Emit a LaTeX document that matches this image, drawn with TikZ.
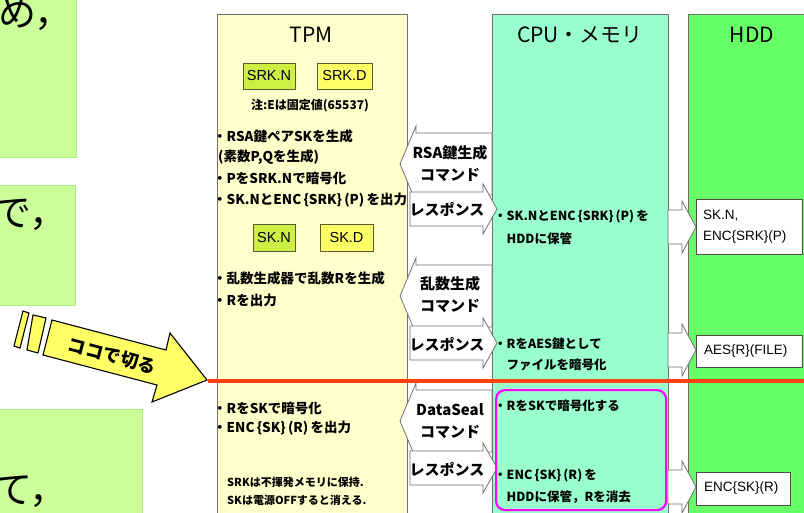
\documentclass[tikz,border=0pt]{standalone}
\usepackage{fontspec}
\setmainfont{Liberation Sans}
\newfontfamily\jp{Noto Sans CJK JP}
\newfontfamily\lat{Liberation Sans}
\definecolor{leftgreen}{HTML}{CCFF99}
\definecolor{leftedge}{HTML}{A8F080}
\definecolor{tpmfill}{HTML}{FFFFCC}
\definecolor{cpufill}{HTML}{99FFCC}
\definecolor{hddfill}{HTML}{66FF66}
\definecolor{keygreen}{HTML}{CCF044}
\definecolor{keyyellow}{HTML}{FFFF66}
\definecolor{keyedge}{HTML}{5A5A30}
\definecolor{cutred}{HTML}{FF4010}
\definecolor{arrowyellow}{HTML}{FFFF66}
\definecolor{edgegray}{HTML}{707070}
\definecolor{pinkline}{HTML}{FF00FF}
\tikzset{
  leftbox/.style={draw=leftedge, fill=leftgreen, line width=0.8pt, anchor=north west, inner sep=0},
  bigjp/.style={font=\jp\fontsize{38}{40}\selectfont, anchor=west, inner sep=0},
  colbox/.style={draw=edgegray, line width=0.8pt, anchor=north west, inner sep=0},
  coltitle/.style={font=\jp\fontsize{21}{23}\selectfont, inner sep=0},
  keybox/.style={draw=keyedge, line width=0.8pt, minimum height=26, inner sep=0, font=\lat\fontsize{14.5}{14.5}\selectfont},
  tb/.style={font=\jp\bfseries\fontsize{13.5}{17}\selectfont, anchor=west, inner sep=0},
  cb/.style={font=\jp\bfseries\fontsize{12.5}{15}\selectfont, anchor=west, inner sep=0},
  smallnote/.style={font=\jp\bfseries\fontsize{11}{13}\selectfont, anchor=west, inner sep=0},
  arrlabel/.style={font=\jp\bfseries\fontsize{15}{22}\selectfont, align=center, inner sep=0},
  blockarrow/.style={draw=edgegray, fill=white, line width=0.8pt, line join=miter},
  hddbox/.style={draw=black!70, fill=white, line width=0.8pt, anchor=north west, inner sep=0},
  hddtext/.style={font=\lat\fontsize{13.5}{21}\selectfont, anchor=west, align=left, inner sep=0},
  cmdarrow/.pic={\draw[blockarrow] (0,-31) -- (-76,-31) -- (-76,-38) -- (-92,0) -- (-76,38) -- (-76,31) -- (0,31) -- cycle;},
  resarrow/.pic={\draw[blockarrow] (0,-17) -- (73,-17) -- (73,-25) -- (87,0) -- (73,25) -- (73,17) -- (0,17) -- cycle;},
  hddarrow/.pic={\draw[blockarrow] (0,-17) -- (14,-17) -- (14,-26) -- (28,0) -- (14,26) -- (14,17) -- (0,17) -- cycle;}
}
\begin{document}
\begin{tikzpicture}[x=1pt,y=-1pt]
\useasboundingbox (0,0) rectangle (804,512);
\clip (0,0) rectangle (804,512);
\fill[white] (0,0) rectangle (804,512);

% left partial boxes
\node[leftbox, minimum width=81, minimum height=159] (lb1) at (-5,-2) {};
\node[leftbox, minimum width=80, minimum height=120] (lb2) at (-5,185) {};
\node[leftbox, minimum width=147, minimum height=115] (lb3) at (-5,409) {};
\node[bigjp] (t1) at (-2,14) {め，};
\node[bigjp] (t2) at (-7,215) {で，};
\node[bigjp] (t3) at (-6,492) {て，};

% columns
\node[colbox, fill=tpmfill, minimum width=190, minimum height=520] (tpm) at (217,14) {};
\node[colbox, fill=cpufill, minimum width=176, minimum height=520] (cpu) at (492,14) {};
\node[colbox, fill=hddfill, minimum width=140, minimum height=520] (hdd) at (688,14) {};
\node[coltitle] (tpmt) at (311,35) {TPM};
\node[coltitle] (cput) at (580,35) {CPU・メモリ};
\node[coltitle] (hddt) at (752,35) {HDD};

% TPM contents
\node[keybox, fill=keygreen, minimum width=52] (srkn) at (269,76) {SRK.N};
\node[keybox, fill=keyyellow, minimum width=55] (srkd) at (344.5,76) {SRK.D};
\node[font=\jp\bfseries\fontsize{12}{14}\selectfont, inner sep=0] (note) at (310,106) {注:Eは固定値(65537)};
\node[tb] (b1) at (213,136) {・RSA鍵ペアSKを生成};
\node[tb] (b2) at (218,157) {(素数P,Qを生成)};
\node[tb] (b3) at (213,178) {・PをSRK.Nで暗号化};
\node[tb] (b4) at (213,200) {・SK.NとENC\,\{SRK\}\,(P)\,を出力};
\node[keybox, fill=keygreen, minimum width=42, minimum height=27] (skn) at (274,237.5) {SK.N};
\node[keybox, fill=keyyellow, minimum width=53, minimum height=27] (skd) at (346.5,237.5) {SK.D};
\node[tb] (b5) at (213,278) {・乱数生成器で乱数Rを生成};
\node[tb] (b6) at (213,300) {・Rを出力};
\node[tb] (b7) at (213,408) {・RをSKで暗号化};
\node[tb] (b8) at (213,428) {・ENC\,\{SK\}\,(R)\,を出力};
\node[smallnote] (n1) at (227,482) {SRKは不揮発メモリに保持.};
\node[smallnote] (n2) at (227,500) {SKは電源OFFすると消える.};

% TPM <-> CPU block arrows
\pic at (492,164) {cmdarrow};
\pic at (410,209) {resarrow};
\pic at (492,296) {cmdarrow};
\pic at (410,343) {resarrow};
\pic at (492,421) {cmdarrow};
\pic at (410,468) {resarrow};
\node[arrlabel] (c1) at (450,164) {RSA鍵生成\\コマンド};
\node[arrlabel] (r1) at (447,209) {レスポンス};
\node[arrlabel] (c2) at (450,295) {乱数生成\\コマンド};
\node[arrlabel] (r2) at (447,344) {レスポンス};
\node[arrlabel] (c3) at (450,421) {DataSeal\\コマンド};
\node[arrlabel] (r3) at (447,469) {レスポンス};

% CPU contents
\node[cb] (p1) at (494,217) {・SK.NとENC\,\{SRK\}\,(P)\,を};
\node[cb] (p2) at (506.5,239) {HDDに保管};
\node[cb] (p3) at (494,344) {・RをAES鍵として};
\node[cb] (p4) at (506.5,365) {ファイルを暗号化};
\node[cb] (p5) at (494,406) {・RをSKで暗号化する};
\node[cb] (p6) at (494,476) {・ENC\,\{SK\}\,(R)\,を};
\node[cb] (p7) at (506.5,497) {HDDに保管，Rを消去};
\node[draw=pinkline, line width=2.2pt, rounded corners=9pt, anchor=north west, minimum width=170, minimum height=120, inner sep=0] (grp) at (495,389) {};

% CPU -> HDD arrows and HDD contents
\pic at (668,227) {hddarrow};
\pic at (668,350) {hddarrow};
\pic at (668,487) {hddarrow};
\node[hddbox, minimum width=106, minimum height=55] (h1) at (696,199) {};
\node[hddtext] (h1t) at (703,226.5) {SK.N,\\ENC\{SRK\}(P)};
\node[hddbox, minimum width=106, minimum height=32] (h2) at (696,335) {};
\node[hddtext] (h2t) at (704,351) {AES\{R\}(FILE)};
\node[hddbox, minimum width=94, minimum height=33] (h3) at (696,472) {};
\node[hddtext] (h3t) at (704,488.5) {ENC\{SK\}(R)};

% cut line
\coordinate (cutL) at (208,381);
\coordinate (cutR) at (810,381);
\draw[cutred, line width=3.5pt] (cutL) -- (cutR);

% "cut here" arrow
\draw[black, fill=arrowyellow, line width=1.1pt, line join=miter]
  (23,311) -- (29,313) -- (20,348) -- (14,346) -- cycle;
\draw[black, fill=arrowyellow, line width=1.1pt, line join=miter]
  (33,315) -- (46,318) -- (38,353) -- (27,350) -- cycle;
\draw[black, fill=arrowyellow, line width=1.1pt, line join=miter]
  (52,320) -- (166,350) -- (170,333) -- (207,380) -- (152,402) -- (157,385) -- (43,355) -- cycle;
\node[rotate=-15, font=\jp\bfseries\fontsize{18}{18}\selectfont, inner sep=0] (cuttxt) at (112,356) {ココで切る};
\end{tikzpicture}
\end{document}
